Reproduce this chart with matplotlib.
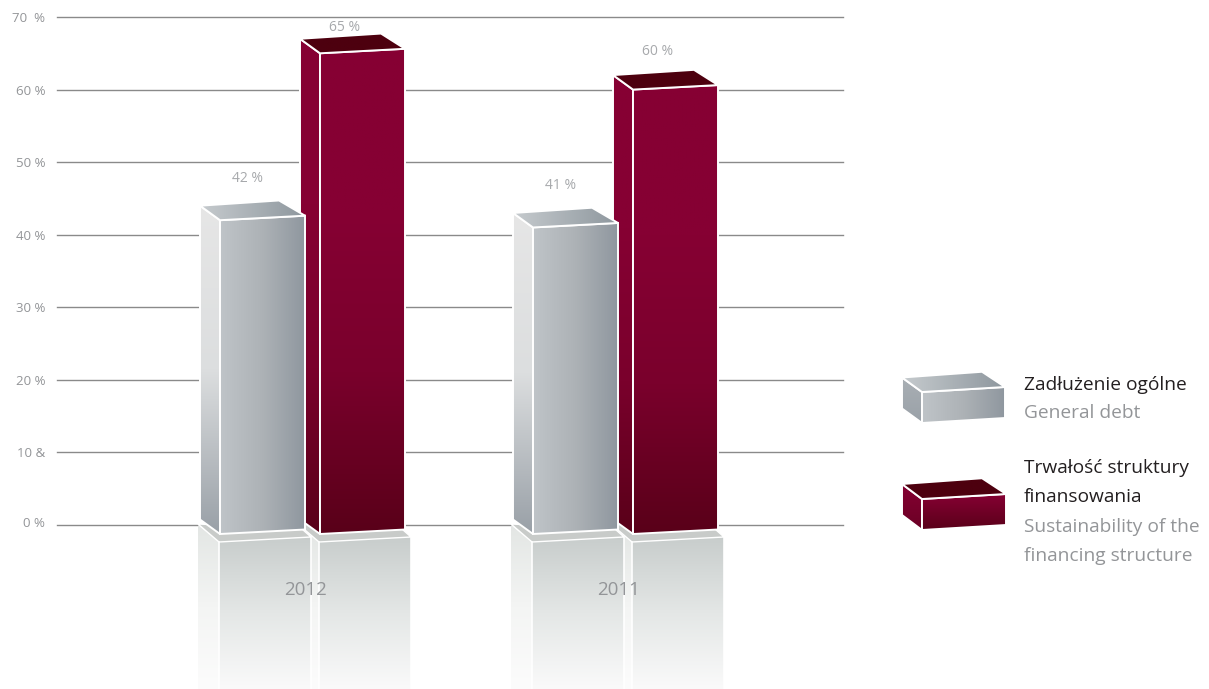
import numpy as np
import matplotlib
matplotlib.use('Agg')
import matplotlib.pyplot as plt
from matplotlib.colors import LinearSegmentedColormap
from matplotlib.patches import Polygon
from matplotlib.transforms import ScaledTranslation

years = ['2012', '2011']
debt = [42, 41]
sustainability = [65, 60]
y_ticks = [0, 10, 20, 30, 40, 50, 60, 70]
y_tick_labels = ['0 %', '10 &', '20 %', '30 %', '40 %', '50 %', '60 %', '70  %']
legend_lines = [
    ('Zadłużenie ogólne', '#231f20', 385),
    ('General debt', '#939598', 413),
    ('Trwałość struktury', '#231f20', 468),
    ('finansowania', '#231f20', 497),
    ('Sustainability of the', '#939598', 527),
    ('financing structure', '#939598', 556),
]

WIDTH, HEIGHT = 1209, 689
AX_LEFT, AX_RIGHT, AX_TOP, AX_BOTTOM = 57, 843, 17, 525
PCT_PER_PX = 70 / (AX_BOTTOM - AX_TOP)

GREY_H = ['#bfc4c8', '#adb2b6', '#8f979f']
GREY_TOP = ['#c6cbce', '#8e979e']
GREY_SIDE = ['#e6e6e6', '#dcdedf', '#99a0a7']
RED_V = ['#860033', '#860033', '#7a002c', '#590019']
RED_TOP = ['#4d000f', '#4d000f']
FLOOR_FRONT = ['#c8cdcc', '#e4e7e6', '#fafafa']
FLOOR_SIDE = ['#e3e6e4', '#f4f5f4', '#fcfcfc']

plt.rcParams['font.family'] = ['Open Sans', 'DejaVu Sans']

fig = plt.figure(figsize=(WIDTH / 100, HEIGHT / 100), dpi=100)
ax = fig.add_axes([AX_LEFT / WIDTH, 1 - AX_BOTTOM / HEIGHT,
                   (AX_RIGHT - AX_LEFT) / WIDTH, (AX_BOTTOM - AX_TOP) / HEIGHT])


def py(v):
    # pixel row to percent value
    return (AX_BOTTOM - v) * PCT_PER_PX


def face(verts, colors, horizontal=False, edge='white', lw=1.4, zorder=3):
    verts = np.array(verts, dtype=float)
    cmap = LinearSegmentedColormap.from_list('f', colors)
    grad = np.linspace(0, 1, 256)
    grad = grad.reshape(1, -1) if horizontal else grad.reshape(-1, 1)
    ext = [verts[:, 0].min(), verts[:, 0].max(), verts[:, 1].min(), verts[:, 1].max()]
    im = ax.imshow(grad, cmap=cmap, extent=ext, origin='upper', aspect='auto', zorder=zorder, interpolation='bilinear')
    clip = Polygon(verts, closed=True, transform=ax.transData)
    im.set_clip_box(fig.bbox)
    im.set_clip_path(clip)
    if edge is not None:
        ax.add_patch(Polygon(verts, closed=True, fill=False, edgecolor=edge, linewidth=lw,
                             clip_on=False, zorder=zorder + 0.1, joinstyle='miter'))


def box(x0, top, bottom, width, rise, dx, dy, back_dx, side, front, lid, front_h, zorder):
    # side, front and lid faces of one block, all offsets in pixels
    r, d = rise * PCT_PER_PX, dy * PCT_PER_PX
    face([(x0 - dx, top + d), (x0, top), (x0, bottom), (x0 - dx, bottom + d)], side, zorder=zorder)
    face([(x0, bottom), (x0 + width, bottom + r), (x0 + width, top + r), (x0, top)], front,
         horizontal=front_h, zorder=zorder + 0.2)
    face([(x0 - dx, top + d), (x0 + width - back_dx, top + r + d * 1.05), (x0 + width, top + r), (x0, top)],
         lid, horizontal=True, zorder=zorder + 0.4)


def floor(x0, width, zorder):
    # pale reflection under a bar, fading out to the bottom edge
    face([(x0 - 22, py(525)), (x0 - 1, py(542)), (x0 - 1, py(689)), (x0 - 22, py(689))],
         FLOOR_SIDE, edge=None, zorder=zorder)
    face([(x0 - 1, py(542)), (x0 + width, py(537)), (x0 + width, py(689)), (x0 - 1, py(689))],
         FLOOR_FRONT, edge=None, zorder=zorder)
    ax.add_patch(Polygon([(x0 - 22, py(524)), (x0 - 1, py(542)), (x0 + width, py(537)), (x0 + width - 9, py(529))],
                         closed=True, facecolor='#c8cbc9', edgecolor='white', linewidth=1.0,
                         clip_on=False, zorder=zorder + 0.1))
    ax.plot([x0 - 1, x0 - 1], [py(542), py(689)], color='white', lw=1.2, clip_on=False, zorder=zorder + 0.2)
    ax.plot([x0 + width, x0 + width], [py(537), py(689)], color='white', lw=1.2, clip_on=False, zorder=zorder + 0.2)


group_starts = [220, 533]
red_shift = 100
bar_w = 85
base = py(534)
label_lift = {'debt': [5.8, 5.8], 'red': [3.6, 5.2]}

for i, year in enumerate(years):
    x_grey = group_starts[i]
    x_red = x_grey + red_shift
    floor(x_red, bar_w + 6, 2.0)
    floor(x_grey, bar_w + 6, 2.5)

    box(x_red, sustainability[i], base, bar_w, 4.5, 20, 14.5, 24, RED_V, RED_V, RED_TOP, False, 3)
    box(x_grey, debt[i], base, bar_w, 4.5, 20, 14.5, 26, GREY_SIDE, GREY_H, GREY_TOP, True, 4)

    ax.text(x_grey + 28, debt[i] + label_lift['debt'][i], f'{debt[i]} %', ha='center', va='center',
            fontsize=10, color='#a7a9ac', zorder=6, clip_on=False)
    ax.text(x_red + 25, sustainability[i] + label_lift['red'][i], f'{sustainability[i]} %', ha='center', va='center',
            fontsize=10, color='#a7a9ac', zorder=6, clip_on=False)
    ax.text(x_grey + 85.5, py(590), year, ha='center', va='center', fontsize=13.5, color='#939598', zorder=6)

# legend swatches
box(922, py(392), py(423), 83, 5, 20, 14.5, 23, ['#a9afb4', '#9aa1a8'], GREY_H, GREY_TOP, True, 5)
box(922, py(499), py(530), 84, 5, 20, 15, 24, ['#860033', '#6a0024'], ['#860033', '#590019'], RED_TOP, False, 5)

for text, color, row in legend_lines:
    fig.text(1024 / WIDTH, 1 - row / HEIGHT, text, color=color, fontsize=13.8, ha='left', va='center')

ax.set_xlim(AX_LEFT, AX_RIGHT)
ax.set_ylim(0, 70)
ax.set_xticks([])
ax.set_yticks(y_ticks)
ax.set_yticklabels(y_tick_labels, fontsize=9.5, color='#939598')
ax.tick_params(axis='y', length=0, pad=8.5)
ax.yaxis.grid(True, color='#8a8a8a', linewidth=1.0, clip_on=False)
ax.set_axisbelow(True)
for s in ax.spines.values():
    s.set_visible(False)
ax.patch.set_alpha(0)

# the 0 % label sits a little above its line
zero_label = ax.get_yticklabels()[0]
zero_label.set_transform(zero_label.get_transform() + ScaledTranslation(0, 3 / 100, fig.dpi_scale_trans))

fig.savefig('out.png', dpi=100, facecolor='white')
